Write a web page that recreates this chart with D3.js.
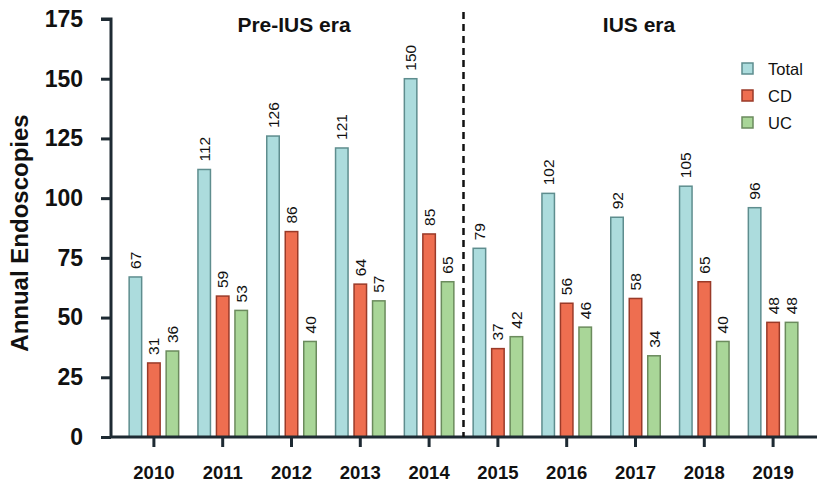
<!DOCTYPE html>
<html>
<head>
<meta charset="utf-8">
<script src="https://cdn.jsdelivr.net/npm/d3@7"></script>
<style>
  body { margin: 0; background: #fff; }
  svg text { font-family: "Liberation Sans", Arial, sans-serif; }
</style>
</head>
<body>
<div id="chart"></div>
<script>
// data
var years = ["2010", "2011", "2012", "2013", "2014", "2015", "2016", "2017", "2018", "2019"];
var total = [67, 112, 126, 121, 150, 79, 102, 92, 105, 96];
var cd = [31, 59, 86, 64, 85, 37, 56, 58, 65, 48];
var uc = [36, 53, 40, 57, 65, 42, 46, 34, 40, 48];
var seriesNames = ["Total", "CD", "UC"];
var yTicks = [0, 25, 50, 75, 100, 125, 150, 175];

var width = 837, height = 487;
var fills = { Total: "#acdcdd", CD: "#ee6e50", UC: "#a9d698" };
var strokes = { Total: "#5e8d8e", CD: "#9a3a28", UC: "#6b8b5d" };

var svg = d3.select("#chart").append("svg")
  .attr("width", width)
  .attr("height", height);

// scales
var x = d3.scaleBand().domain(years).range([119.5, 807.5]).padding(0);
var y = d3.scaleLinear().domain([0, 175]).range([437, 19]);
var offset = { Total: -18.5, CD: 0, UC: 18.5 };
var barW = 12.5;

var rows = years.map(function (yr, i) {
  return { year: yr, Total: total[i], CD: cd[i], UC: uc[i] };
});

// bars
seriesNames.forEach(function (s) {
  var g = svg.append("g");
  g.selectAll("rect")
    .data(rows)
    .enter()
    .append("rect")
    .attr("x", function (d) { return x(d.year) + x.bandwidth() / 2 + offset[s] - barW / 2; })
    .attr("y", function (d) { return y(d[s]); })
    .attr("width", barW)
    .attr("height", function (d) { return y(0) - y(d[s]); })
    .attr("fill", fills[s])
    .attr("stroke", strokes[s])
    .attr("stroke-width", 1.5);

  // value labels, rotated
  g.selectAll("text")
    .data(rows)
    .enter()
    .append("text")
    .attr("transform", function (d) {
      var cx = x(d.year) + x.bandwidth() / 2 + offset[s];
      return "translate(" + (cx + 5.5) + "," + (y(d[s]) - 8) + ") rotate(-90)";
    })
    .attr("font-size", 15.5)
    .attr("fill", "#111")
    .text(function (d) { return d[s]; });
});

// y axis
var yAxis = svg.append("g")
  .attr("transform", "translate(111,0)")
  .call(d3.axisLeft(y).tickValues(yTicks).tickSize(10).tickPadding(18));
yAxis.select(".domain").attr("stroke", "#1e2a33").attr("stroke-width", 3)
  .attr("d", "M-10," + y(175) + "H0V" + y(0));
yAxis.selectAll(".tick line").attr("stroke", "#1e2a33").attr("stroke-width", 3);
yAxis.selectAll(".tick text")
  .attr("font-size", 23)
  .attr("font-weight", "bold")
  .attr("fill", "#111");

// x axis
var xAxis = svg.append("g")
  .attr("transform", "translate(0,437)")
  .call(d3.axisBottom(x).tickSize(10).tickPadding(19));
xAxis.select(".domain").attr("stroke", "#1e2a33").attr("stroke-width", 3)
  .attr("d", "M111,0H817");
xAxis.selectAll(".tick line").attr("stroke", "#1e2a33").attr("stroke-width", 3);
xAxis.selectAll(".tick text")
  .attr("font-size", 18.5)
  .attr("font-weight", "bold")
  .attr("fill", "#111");

// y axis title
svg.append("text")
  .attr("transform", "translate(28,233) rotate(-90)")
  .attr("text-anchor", "middle")
  .attr("font-size", 24)
  .attr("font-weight", "bold")
  .attr("fill", "#111")
  .text("Annual Endoscopies");

// era divider
var divX = (x("2014") + x("2015") + x.bandwidth()) / 2;
svg.append("line")
  .attr("x1", divX).attr("x2", divX)
  .attr("y1", 12).attr("y2", 437)
  .attr("stroke", "#111")
  .attr("stroke-width", 2.5)
  .attr("stroke-dasharray", "7,5");

svg.append("text")
  .attr("x", 294).attr("y", 32)
  .attr("text-anchor", "middle")
  .attr("font-size", 21)
  .attr("font-weight", "bold")
  .attr("fill", "#111")
  .text("Pre-IUS era");

svg.append("text")
  .attr("x", 639).attr("y", 32)
  .attr("text-anchor", "middle")
  .attr("font-size", 21)
  .attr("font-weight", "bold")
  .attr("fill", "#111")
  .text("IUS era");

// legend
var legend = svg.append("g").attr("transform", "translate(742,63)");
seriesNames.forEach(function (s, i) {
  legend.append("rect")
    .attr("x", 0).attr("y", i * 27)
    .attr("width", 11).attr("height", 11)
    .attr("fill", fills[s])
    .attr("stroke", strokes[s])
    .attr("stroke-width", 1.5);
  legend.append("text")
    .attr("x", 26).attr("y", i * 27 + 12)
    .attr("font-size", 16.5)
    .attr("fill", "#111")
    .text(s);
});
</script>
</body>
</html>
